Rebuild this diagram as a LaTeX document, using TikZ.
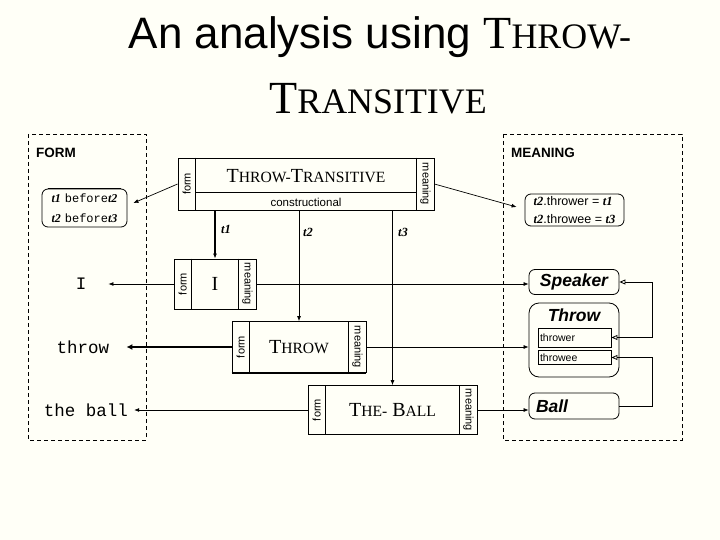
\documentclass[tikz,border=0pt]{standalone}
\usepackage{fontspec}
\setsansfont{Liberation Sans}
\setmonofont{Liberation Mono}
\newfontfamily\tms{Liberation Serif}
\usepackage{graphicx}
\usetikzlibrary{arrows.meta}
\definecolor{bgcream}{RGB}{255,255,247}
\newcommand{\fs}[1]{\fontsize{#1}{#1}\selectfont}
\newcommand{\fsc}[2]{#1\scalebox{0.78}{#2}}
\newcommand{\tv}[1]{{\tms\bfseries\itshape t#1}}
\newcommand{\bef}{{\ttfamily\fontsize{12}{17}\selectfont before}}
\newcommand{\cxn}[5]{\node[cbox,minimum width=#3,minimum height=#4] (#1) at #2 {\tms\fs{20}#5};
\draw ([xshift=18]#1.north west) -- ([xshift=18]#1.south west) ([xshift=-18]#1.north east) -- ([xshift=-18]#1.south east);
\node[slot,rotate=90] (#1f) at ([xshift=9]#1.west) {form};\node[slot,rotate=-90] (#1m) at ([xshift=-9]#1.east) {meaning};}

\begin{document}
\begin{tikzpicture}[x=1pt,y=-1pt,font=\sffamily,>={Latex[length=5pt,width=4pt]},
cbox/.style={draw,line width=0.8pt,inner sep=0pt},slot/.style={inner sep=0pt,font=\sffamily\fs{11}},
panel/.style={draw,line width=0.7pt,dash pattern=on 4pt off 3pt},rbox/.style={draw,line width=0.8pt,rounded corners=6pt,inner sep=0pt},
sqbox/.style={draw,line width=0.8pt,inner xsep=2pt,inner ysep=0pt,font=\sffamily\fs{10.5}},word/.style={inner sep=0pt,font=\ttfamily\fs{17.5}},
fa/.style={->,line width=0.7pt},mlabel/.style={font=\sffamily\bfseries\itshape\fs{17.5}},tlabel/.style={inner sep=0pt,font=\fs{12.5}},
cstart/.style={{Triangle[open,length=6pt,width=5pt,line width=0.8pt]}-},cend/.style={-{Triangle[open,length=6pt,width=5pt,line width=0.8pt]}}]
\fill[bgcream] (0,0) rectangle (720,540);\useasboundingbox (0,0) rectangle (720,540);
\node[anchor=base,inner sep=0pt] (ttl1) at (380,49) {\fs{44}An analysis using {\tms\fs{46}\fsc{T}{HROW-}}};
\node[anchor=base,inner sep=0pt] (ttl2) at (378,114) {\tms\fs{46}\fsc{T}{RANSITIVE}};
\draw[panel] (28,134) rectangle (146,440);\node[anchor=west,inner sep=0pt,font=\sffamily\bfseries\fs{13.5}] (formL) at (36,153) {FORM};
\draw[panel] (503,134) rectangle (682,440);\node[anchor=west,inner sep=0pt,font=\sffamily\bfseries\fs{13.5}] (meanL) at (511,153) {MEANING};
\cxn{tt}{(306,184)}{256}{52}{}
\draw ([xshift=18,yshift=-35]tt.north west) -- ([xshift=-18,yshift=-35]tt.north east);
\node[inner sep=0pt] (ttn) at (306,176) {\tms\fs{20}\fsc{T}{HROW-}\fsc{T}{RANSITIVE}};\node[inner sep=0pt] (ttc) at (306,202) {\fs{11.5}constructional};
\node[rbox,align=left,inner xsep=5pt,minimum width=85,minimum height=38,font=\fontsize{12}{17}\selectfont] (tbx) at (84.5,208) {\tv1 \bef\tv2\\[3pt]\tv2 \bef\tv3};
\draw[line width=1.8pt] ([xshift=6]tbx.north west) -- ([xshift=-6]tbx.north east);
\node[rbox,align=left,minimum width=99,minimum height=32,font=\sffamily\fontsize{12.5}{16}\selectfont] (mbx) at (574.5,210) {\tv2.thrower = \tv1\\[2pt]\tv2.throwee = \tv3};
\draw[fa] (tt.west) -- ([xshift=6,yshift=5]tbx.east);\draw[fa] (tt.east) -- ([xshift=-8,yshift=3]mbx.west);
\cxn{ib}{(215,284)}{82}{50}{I}
\cxn{thr}{(299,347)}{134}{51}{\fsc{T}{HROW}}
\cxn{tb}{(392.5,410)}{169}{49}{\fsc{T}{HE-} \fsc{B}{ALL}}
\draw[line width=1.6pt] (thr.south west) -- (thr.south east);
\draw[fa,line width=1.6pt] (ib.north |- tt.south) -- (ib.north);\draw[fa] (thr.north |- tt.south) -- (thr.north);\draw[fa] (tb.north |- tt.south) -- (tb.north);
\node[tlabel] (l1) at (226,229) {\tv1};\node[tlabel] (l2) at (308,232) {\tv2};\node[tlabel] (l3) at (403,232) {\tv3};
\node[word] (wI) at (81,284) {I};\node[word] (wthrow) at (83,347) {throw};\node[word] (wball) at (86,410) {the ball};
\draw[fa] (ib.west) -- ([xshift=22]wI.east);\draw[->,line width=2pt,>={Latex[length=6pt,width=6pt]}] (thr.west) -- ([xshift=17]wthrow.east);\draw[fa] (tb.west) -- ([xshift=6]wball.east);
\node[rbox,minimum width=90,minimum height=25,mlabel] (spk) at (574,282) {Speaker};
\node[rbox,rounded corners=10pt,minimum width=90,minimum height=74] (thB) at (574,340) {};\node[mlabel,inner sep=0pt] (thT) at (574,315) {Throw};
\node[sqbox,text width=69,minimum height=19] (thw) at (574.5,337.5) {thrower};\draw[line width=1.6pt] (thw.south west) -- (thw.south east);
\node[sqbox,text width=69,minimum height=14] (twe) at (574.5,357.5) {throwee};
\node[rbox,text width=76,inner xsep=7pt,minimum height=26,mlabel] (ball) at (574,406) {Ball};
\draw[fa] (ib.east) -- (ib.east -| spk.west);\draw[fa] (thr.east) -- (thr.east -| thB.west);\draw[fa] (tb.east) -- (tb.east -| ball.west);
\coordinate (rr) at (652,282);
\draw[cstart,line width=1pt] (spk.east) -- (spk.east -| rr) -- (rr |- thw.east);\draw[cend,line width=1.8pt] (rr |- thw.east) -- (thw.east);
\draw[cstart,cend,line width=0.8pt] (ball.east) -- (ball.east -| rr) -- (rr |- twe.east) -- (twe.east);
\end{tikzpicture}
\end{document}
